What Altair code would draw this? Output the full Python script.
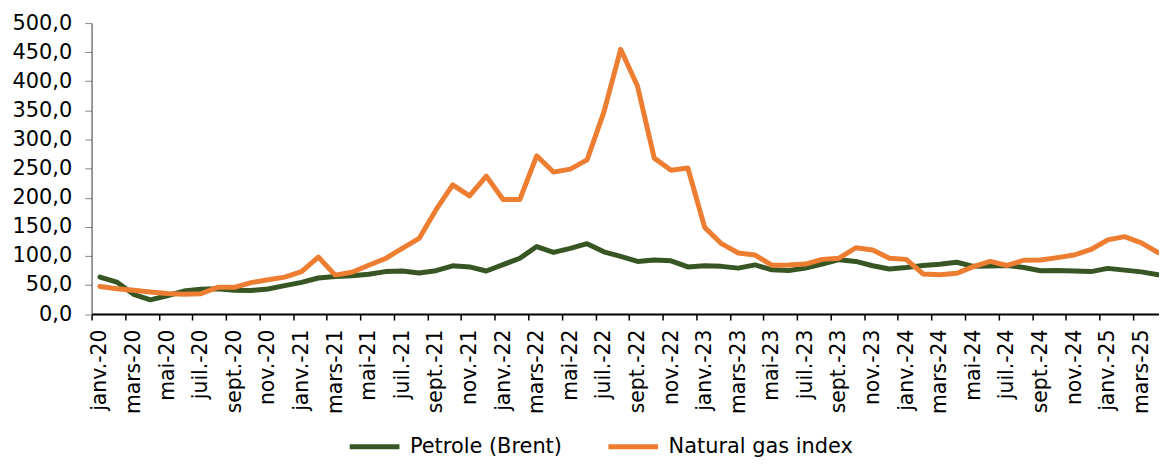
import altair as alt
import pandas as pd

month_names = ["janv.", "févr.", "mars", "avr.", "mai", "juin",
               "juil.", "août", "sept.", "oct.", "nov.", "déc."]
years = ["20", "21", "22", "23", "24", "25"]
months = [f"{m}-{y}" for y in years for m in month_names][:64]  # janv.-20 .. avr.-25

brent = [63.6, 55, 34, 24.5, 31.5, 39.5, 42.5, 43.5, 41, 40.5, 43, 49,
         54.5, 62, 64.5, 66, 68.5, 73, 74, 70.5, 74.5, 83, 81, 74,
         85, 96, 116, 106, 113, 121, 107, 99, 90.5, 93, 91.5, 81,
         83, 82, 79, 84.5, 76, 75, 79, 86, 93.5, 90.5, 83, 77.5,
         80, 83.5, 85.5, 89, 82, 82.5, 83.5, 80, 74.5, 75, 74, 73,
         78.5, 75.5, 72.5, 67.5]

gas = [47.5, 43.5, 41, 38, 35.5, 34, 35, 46, 46, 54, 59, 63.5,
       73, 98, 67, 72, 84, 95.5, 113, 130, 179, 222, 203, 237,
       197, 197, 272, 244, 249, 265, 347, 455, 392, 268, 247, 251,
       149, 121, 105, 101.5, 84, 84.5, 86, 94, 96, 114, 110, 96,
       94, 69, 67.5, 70, 81.5, 90.5, 83.5, 92.5, 93, 97, 101.5, 111,
       127.5, 133, 122.5, 105.5]

series_names = ["Petrole (Brent)", "Natural gas index"]
series_colors = ["#375623", "#ED7D31"]

rows = []
for i, m in enumerate(months):
    rows.append({"idx": i, "month": m, "series": series_names[0], "value": brent[i]})
    rows.append({"idx": i, "month": m, "series": series_names[1], "value": gas[i]})
df = pd.DataFrame(rows)

W = 1073
H = 292.5
x_max = 63.05
half = W / (x_max + 0.5) / 2

label_js = "[" + ",".join("'" + m + "'" for m in months) + "]"
tick_vals = [i - 0.5 for i in range(0, 64, 2)]

FONT = "DejaVu Sans"

chart = alt.Chart(df).mark_line(strokeWidth=5, strokeJoin="round", strokeCap="round").encode(
    x=alt.X("idx:Q",
            scale=alt.Scale(domain=[-0.5, x_max], nice=False, zero=False),
            axis=alt.Axis(values=tick_vals, title=None, grid=False,
                          labelExpr=label_js + "[round(datum.value + 0.5)]",
                          labelAngle=-90, labelOffset=half, labelFlush=False,
                          labelOverlap=False, labelPadding=9,
                          labelFont=FONT, labelFontSize=20.5, labelColor="#000000",
                          tickSize=6, tickColor="#000000", tickWidth=1.5,
                          domainColor="#000000", domainWidth=2)),
    y=alt.Y("value:Q",
            scale=alt.Scale(domain=[0, 500], nice=False),
            axis=alt.Axis(values=list(range(0, 501, 50)), title=None, grid=False,
                          labelExpr="replace(format(datum.value, '.1f'), '.', ',')",
                          labelFlush=False, labelOverlap=False, labelPadding=13,
                          labelFont=FONT, labelFontSize=21, labelColor="#000000",
                          tickSize=7, tickColor="#888888", tickWidth=1,
                          domainColor="#333333", domainWidth=1)),
    color=alt.Color("series:N",
                    scale=alt.Scale(domain=series_names, range=series_colors),
                    legend=alt.Legend(title=None, orient="none", direction="horizontal",
                                      legendX=257, legendY=398,
                                      symbolType="stroke", symbolSize=2500,
                                      symbolStrokeWidth=5, labelOffset=8,
                                      columnPadding=36, labelLimit=400,
                                      labelFont=FONT, labelFontSize=21,
                                      labelColor="#000000")),
    detail="series:N",
).properties(
    width=W, height=H,
    autosize=alt.AutoSizeParams(type="none"),
    padding={"left": 84, "top": 14, "right": 0, "bottom": 145},
).configure_view(stroke=None)

chart.save("out.html", embed_options={"renderer": "svg", "actions": False})
